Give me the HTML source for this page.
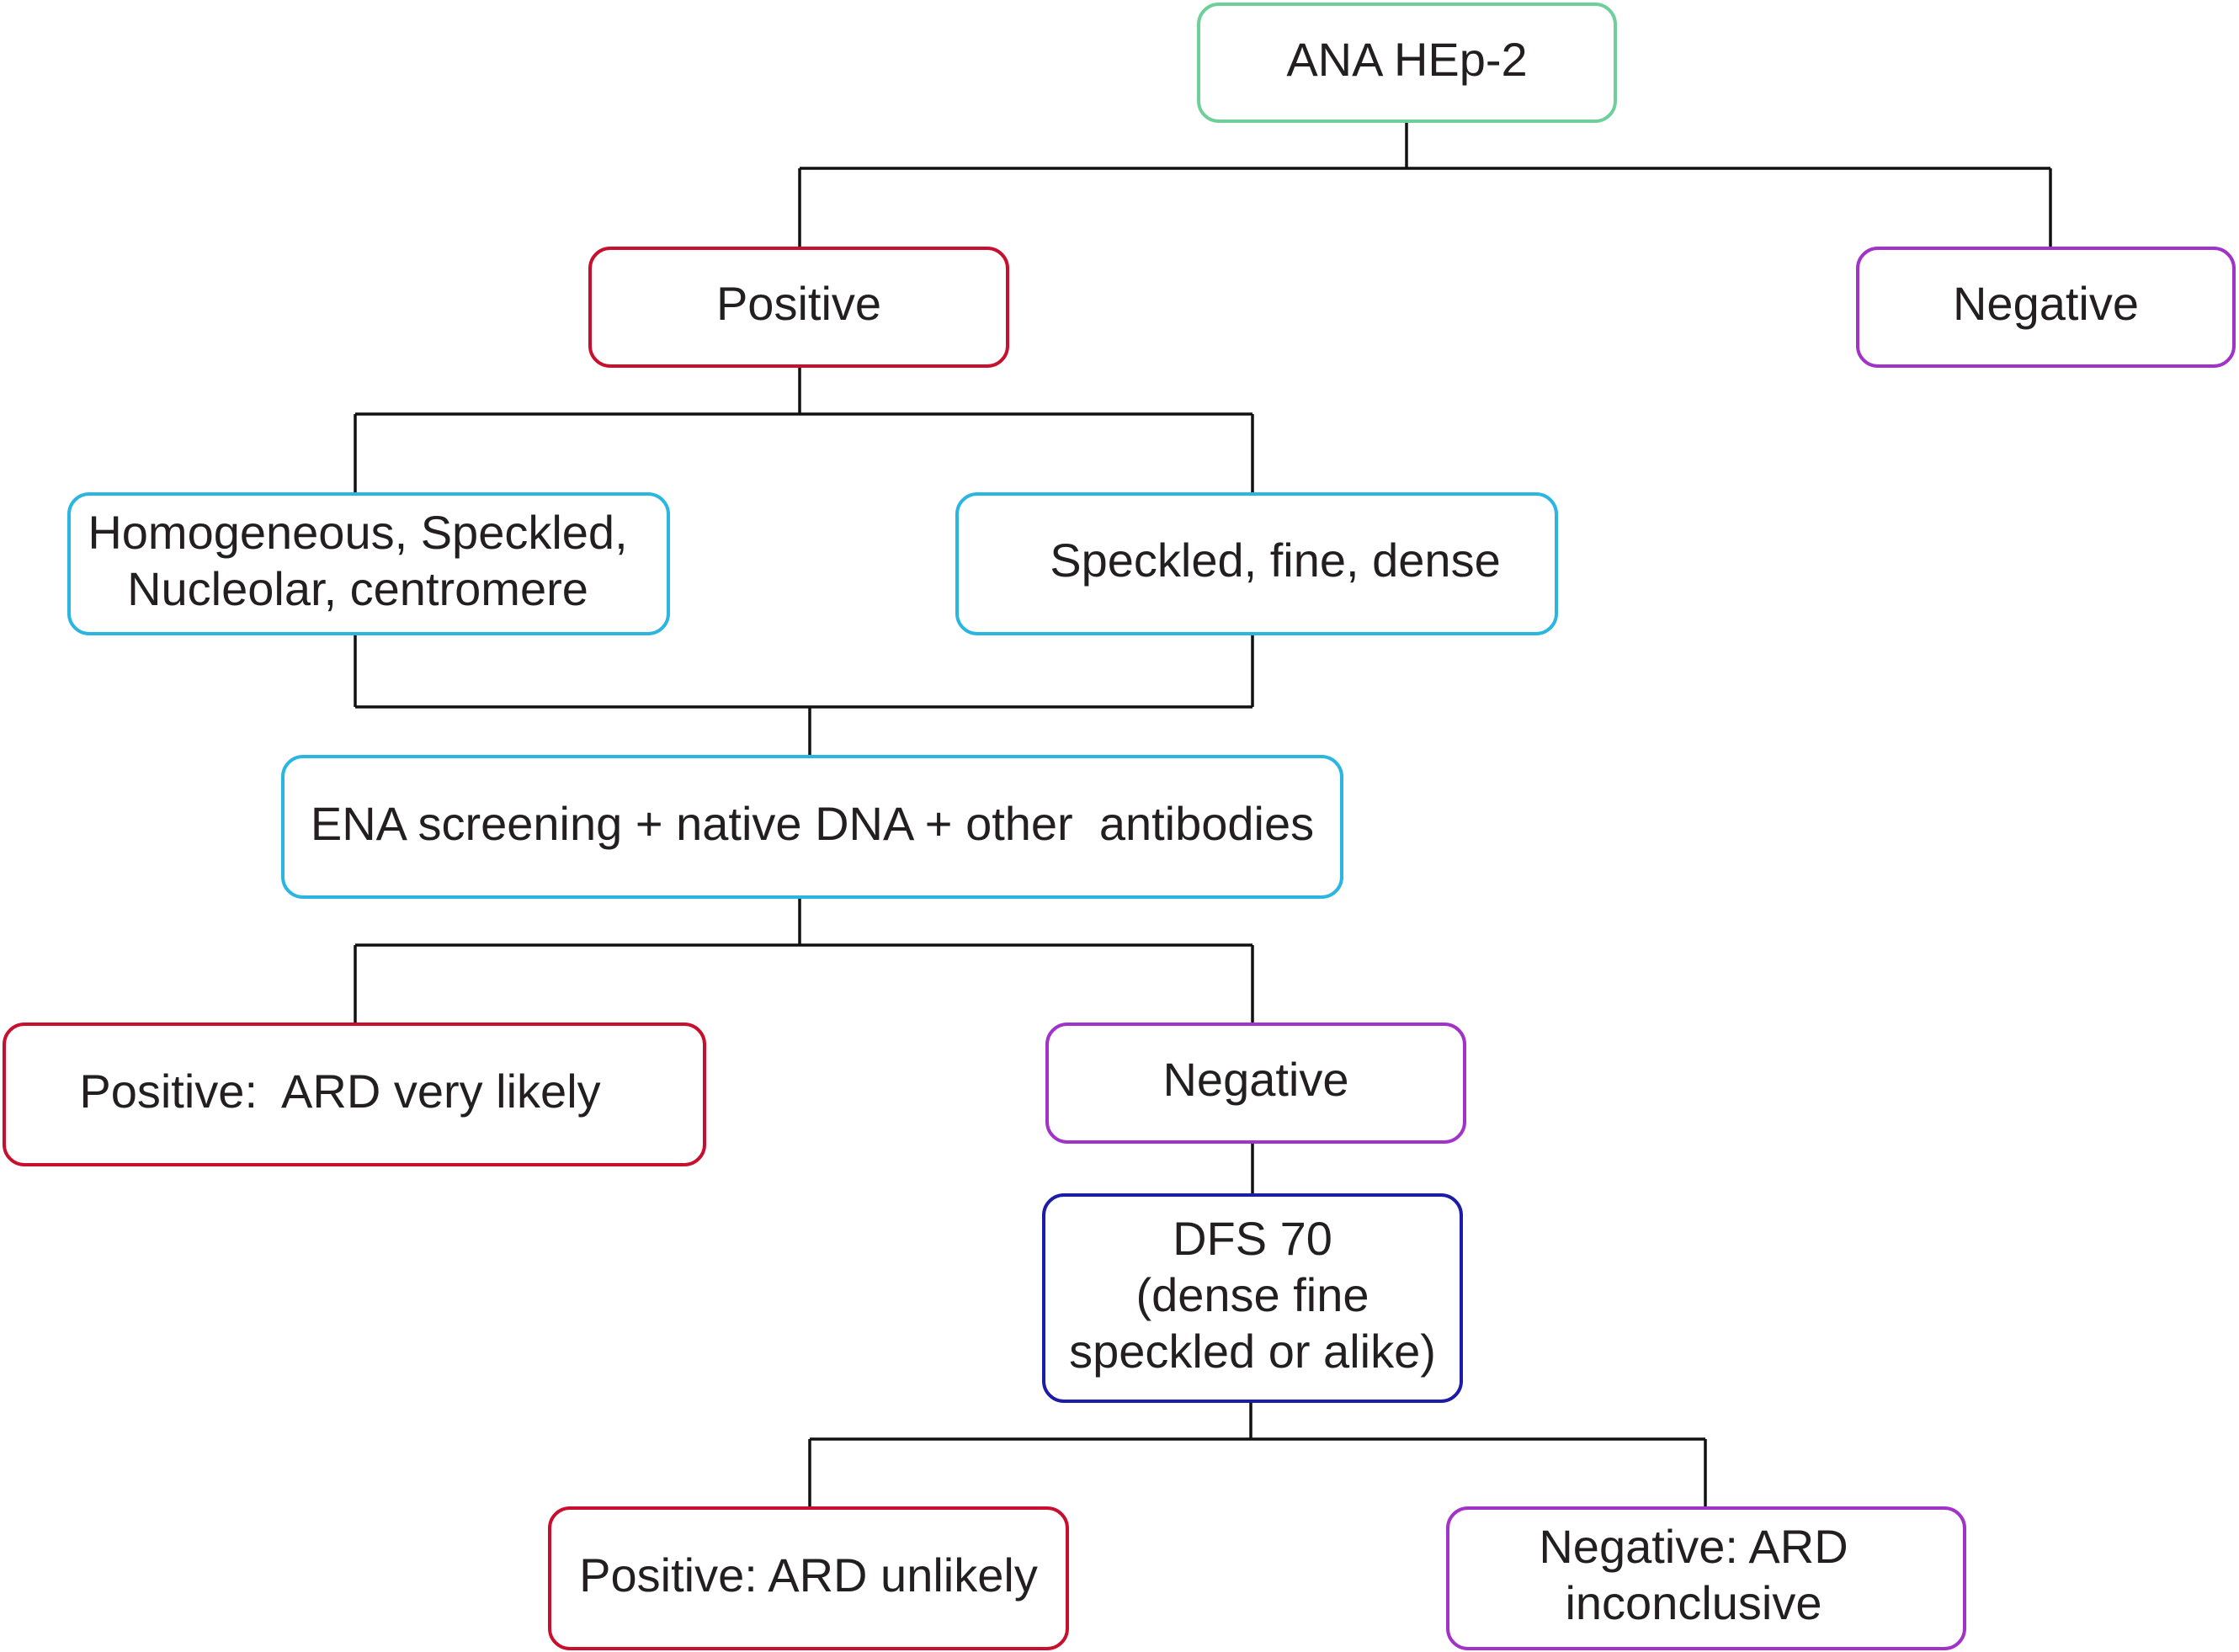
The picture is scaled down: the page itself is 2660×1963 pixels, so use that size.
<!DOCTYPE html>
<html><head><meta charset="utf-8"><style>
html,body{margin:0;padding:0;background:#fff;}
body{width:2660px;height:1963px;position:relative;overflow:hidden;font-family:"Liberation Sans",Arial,sans-serif;color:#231f20;}
.b{position:absolute;box-sizing:border-box;border:4px solid;border-radius:26px;display:flex;align-items:center;justify-content:center;text-align:center;font-size:56px;line-height:67px;background:#fff;padding-bottom:9px;}
.g{border-color:#6fcf9a}.r{border-color:#c8102e}.p{border-color:#a133c8}.c{border-color:#2bb6e2}.n{border-color:#1c1ca6}
</style></head><body>
<svg width="2660" height="1963" style="position:absolute;left:0;top:0" stroke="#111" stroke-width="3.5" fill="none">
<path d="M1671 146V200M950 200H2436M950 200V293M2436 200V293"/>
<path d="M950 437V492M422 492H1488M422 492V585M1488 492V585"/>
<path d="M422 755V840M1488 755V840M422 840H1488M962 840V897"/>
<path d="M950 1068V1123M422 1123H1488M422 1123V1215M1488 1123V1215"/>
<path d="M1488 1359V1418"/>
<path d="M1486 1667V1710M962 1710H2026M962 1710V1790M2026 1710V1790"/>
</svg>
<div class="b g" style="left:1422px;top:3px;width:499px;height:143px">ANA HEp-2</div>
<div class="b r" style="left:699px;top:293px;width:500px;height:144px">Positive</div>
<div class="b p" style="left:2205px;top:293px;width:451px;height:144px">Negative</div>
<div class="b c" style="left:80px;top:585px;width:716px;height:170px;padding-right:26px">Homogeneous, Speckled,<br>Nucleolar, centromere</div>
<div class="b c" style="left:1135px;top:585px;width:716px;height:170px;padding-left:44px">Speckled, fine, dense</div>
<div class="b c" style="left:334px;top:897px;width:1262px;height:171px">ENA screening + native DNA + other&nbsp; antibodies</div>
<div class="b r" style="left:3px;top:1215px;width:836px;height:171px;padding-right:34px">Positive:&nbsp; ARD very likely</div>
<div class="b p" style="left:1242px;top:1215px;width:500px;height:144px">Negative</div>
<div class="b n" style="left:1238px;top:1418px;width:500px;height:249px">DFS 70<br>(dense fine<br>speckled or alike)</div>
<div class="b r" style="left:651px;top:1790px;width:619px;height:171px">Positive: ARD unlikely</div>
<div class="b p" style="left:1718px;top:1790px;width:618px;height:171px;padding-right:30px">Negative: ARD<br>inconclusive</div>
</body></html>
